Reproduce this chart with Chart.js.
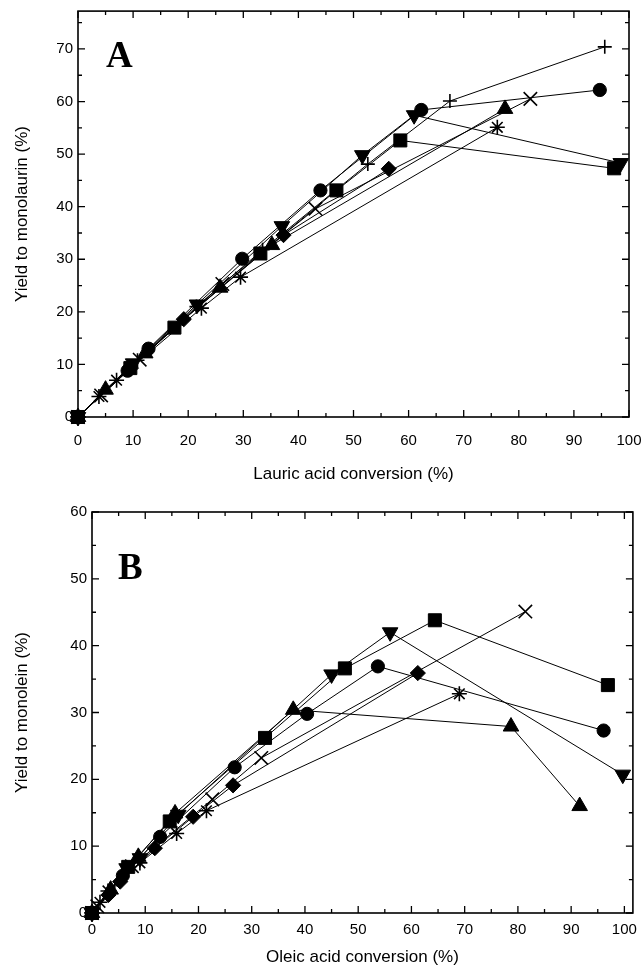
<!DOCTYPE html>
<html><head><meta charset="utf-8">
<script src="https://cdn.jsdelivr.net/npm/chart.js@4.4.1/dist/chart.umd.min.js"></script>
<style>
html,body{margin:0;padding:0;background:#fff;}
#wrapA{position:absolute;left:0;top:0;width:644px;height:490px;}
#wrapB{position:absolute;left:0;top:490px;width:644px;height:478px;}
</style></head><body>
<div id="wrapA"><canvas id="cA" width="644" height="490"></canvas></div>
<div id="wrapB"><canvas id="cB" width="644" height="478"></canvas></div>
<script>
// ---------- Panel A: lauric acid ----------
const lauricSquareX   = [0, 9.5, 17.5, 33.1, 46.9, 58.5, 97.3];
const lauricSquareY   = [0, 9.3, 17.0, 31.1, 43.1, 52.6, 47.3];
const lauricCircleX   = [0, 9.0, 12.8, 29.8, 44.0, 62.3, 94.7];
const lauricCircleY   = [0, 8.8, 13.0, 30.1, 43.1, 58.4, 62.2];
const lauricTriUpX    = [0, 5.0, 12.2, 25.8, 35.2, 77.5];
const lauricTriUpY    = [0, 5.2, 12.1, 24.6, 32.7, 58.6];
const lauricTriDownX  = [0, 10.0, 21.6, 37.0, 51.6, 61.0, 98.5];
const lauricTriDownY  = [0, 10.2, 21.4, 36.3, 49.8, 57.4, 48.3];
const lauricDiamondX  = [0, 9.6, 19.2, 37.3, 56.4];
const lauricDiamondY  = [0, 9.3, 18.6, 34.6, 47.2];
const lauricPlusX     = [0, 10.8, 21.5, 33.5, 52.6, 67.5, 95.6];
const lauricPlusY     = [0, 10.8, 21.0, 31.8, 48.1, 60.1, 70.4];
const lauricCrossX    = [0, 4.2, 11.2, 26.2, 43.1, 82.1];
const lauricCrossY    = [0, 4.1, 10.9, 25.3, 39.6, 60.5];
const lauricStarX     = [0, 3.8, 7.0, 22.4, 29.5, 76.1];
const lauricStarY     = [0, 3.9, 7.0, 20.7, 26.6, 55.1];

// ---------- Panel B: oleic acid ----------
const oleicSquareX    = [0, 6.8, 14.6, 32.5, 47.5, 64.4, 96.9];
const oleicSquareY    = [0, 6.9, 13.7, 26.2, 36.6, 43.8, 34.1];
const oleicCircleX    = [0, 5.8, 12.8, 26.8, 40.4, 53.7, 96.1];
const oleicCircleY    = [0, 5.6, 11.4, 21.8, 29.8, 36.9, 27.3];
const oleicTriUpX     = [0, 3.5, 8.7, 15.6, 37.8, 78.7, 91.6];
const oleicTriUpY     = [0, 3.5, 8.4, 14.9, 30.4, 27.9, 16.0];
const oleicTriDownX   = [0, 6.5, 9.0, 16.2, 45.0, 56.0, 99.7];
const oleicTriDownY   = [0, 6.7, 8.2, 14.7, 35.7, 42.0, 20.7];
const oleicDiamondX   = [0, 3.1, 5.3, 11.8, 19.0, 26.5, 61.2];
const oleicDiamondY   = [0, 2.7, 4.7, 9.7, 14.4, 19.1, 35.9];
const oleicCrossX     = [0, 1.0, 7.5, 22.6, 31.8, 81.4];
const oleicCrossY     = [0, 1.0, 7.0, 17.0, 23.2, 45.1];
const oleicStarX      = [0, 1.5, 3.0, 9.0, 15.9, 21.5, 69.0];
const oleicStarY      = [0, 1.6, 3.3, 7.5, 11.9, 15.3, 32.8];

// axis texts and ranges
const panelLetters = ['A', 'B'];
const xTitles = ['Lauric acid conversion (%)', 'Oleic acid conversion (%)'];
const yTitles = ['Yield to monolaurin (%)', 'Yield to monolein (%)'];
const xMax = [100, 101.6];
const yMax = [77.2, 60];

const MARKERS = {
  square:  {pointStyle:'rect', radius:9.2, rotation:0, filled:true},
  circle:  {pointStyle:'circle', radius:6.6, rotation:0, filled:true},
  triUp:   {pointStyle:'triangle', radius:9, rotation:0, filled:true},
  triDown: {pointStyle:'triangle', radius:9, rotation:180, filled:true},
  diamond: {pointStyle:'rectRot', radius:7.6, rotation:0, filled:true},
  plus:    {pointStyle:'cross', radius:7, rotation:0, filled:false},
  cross:   {pointStyle:'crossRot', radius:9.5, rotation:0, filled:false},
  star:    {pointStyle:'star', radius:7.5, rotation:0, filled:false}
};

function ds(xs, ys, kind){
  const m = MARKERS[kind];
  return {
    data: xs.map((x,i)=>({x:x, y:ys[i]})),
    showLine: true,
    borderColor: '#000',
    borderWidth: 1,
    backgroundColor: '#000',
    pointBackgroundColor: '#000',
    pointBorderColor: '#000',
    pointBorderWidth: m.filled ? 1 : 1.6,
    pointStyle: m.pointStyle,
    pointRadius: m.radius,
    pointRotation: m.rotation,
    clip: false
  };
}

const frameTicks = {
  id: 'frameTicks',
  beforeDatasetsDraw(chart){
    const {ctx, chartArea:a} = chart;
    const sx = chart.scales.x, sy = chart.scales.y;
    ctx.save();
    ctx.strokeStyle = '#000';
    ctx.lineWidth = 1.6;
    ctx.strokeRect(a.left, a.top, a.right - a.left, a.bottom - a.top);
    ctx.lineWidth = 1.3;
    ctx.beginPath();
    for (let v = 0; v <= sx.max + 0.01; v += 5) {
      const p = sx.getPixelForValue(v);
      const len = (v % 10 === 0) ? 7 : 4;
      ctx.moveTo(p, a.bottom); ctx.lineTo(p, a.bottom - len);
      ctx.moveTo(p, a.top); ctx.lineTo(p, a.top + len);
    }
    for (let v = 0; v <= sy.max + 0.01; v += 5) {
      const p = sy.getPixelForValue(v);
      const len = (v % 10 === 0) ? 7 : 4;
      ctx.moveTo(a.left, p); ctx.lineTo(a.left + len, p);
      ctx.moveTo(a.right, p); ctx.lineTo(a.right - len, p);
    }
    ctx.stroke();
    ctx.restore();
  },
  afterDraw(chart, args, opts){
    const ctx = chart.ctx;
    ctx.save();
    ctx.fillStyle = '#000';
    ctx.font = 'bold 37px "Liberation Serif", "Times New Roman", serif';
    ctx.textBaseline = 'alphabetic';
    ctx.fillText(opts.letter, opts.lx, opts.ly);
    ctx.restore();
  }
};

function makeChart(id, datasets, idx, layout){
  return new Chart(document.getElementById(id), {
    type: 'scatter',
    data: {datasets: datasets},
    options: {
      responsive: false,
      animation: false,
      events: [],
      layout: {padding: {left: 0, top: layout.top, right: layout.right, bottom: 0}},
      plugins: {
        legend: {display: false},
        tooltip: {enabled: false},
        frameTicks: {letter: panelLetters[idx], lx: layout.lx, ly: layout.ly}
      },
      scales: {
        x: {
          type: 'linear', min: 0, max: xMax[idx],
          grid: {display: false, drawTicks: false},
          border: {display: false},
          ticks: {stepSize: 10, includeBounds: false, color: '#000', padding: layout.xTickPad,
                  font: {family: '"Liberation Sans", Arial, sans-serif', size: 15},
                  callback: v => (v % 10 === 0 && v <= 100) ? String(v) : ''},
          title: {display: true, text: xTitles[idx], color: '#000',
                  font: {family: '"Liberation Sans", Arial, sans-serif', size: 17},
                  padding: {top: 0, bottom: layout.xTitlePad}},
          afterFit: s => { s.height = layout.xH; s.paddingLeft = 0; s.paddingRight = 0; }
        },
        y: {
          type: 'linear', min: 0, max: yMax[idx],
          grid: {display: false, drawTicks: false},
          border: {display: false},
          ticks: {stepSize: 10, includeBounds: false, color: '#000', padding: 5,
                  font: {family: '"Liberation Sans", Arial, sans-serif', size: 15},
                  callback: v => (v % 10 === 0) ? String(v) : ''},
          title: {display: true, text: yTitles[idx], color: '#000',
                  font: {family: '"Liberation Sans", Arial, sans-serif', size: 17},
                  padding: {top: layout.yTitlePad, bottom: 0}},
          afterFit: s => { s.width = layout.yW; s.paddingTop = 0; s.paddingBottom = 0; }
        }
      }
    },
    plugins: [frameTicks]
  });
}

makeChart('cA', [
  ds(lauricSquareX, lauricSquareY, 'square'),
  ds(lauricCircleX, lauricCircleY, 'circle'),
  ds(lauricTriUpX, lauricTriUpY, 'triUp'),
  ds(lauricTriDownX, lauricTriDownY, 'triDown'),
  ds(lauricDiamondX, lauricDiamondY, 'diamond'),
  ds(lauricPlusX, lauricPlusY, 'plus'),
  ds(lauricCrossX, lauricCrossY, 'cross'),
  ds(lauricStarX, lauricStarY, 'star')
], 0, {top: 10, right: 15, xH: 73, yW: 78, xTickPad: 15, xTitlePad: 5, yTitlePad: 12, lx: 106, ly: 67});

makeChart('cB', [
  ds(oleicSquareX, oleicSquareY, 'square'),
  ds(oleicCircleX, oleicCircleY, 'circle'),
  ds(oleicTriUpX, oleicTriUpY, 'triUp'),
  ds(oleicTriDownX, oleicTriDownY, 'triDown'),
  ds(oleicDiamondX, oleicDiamondY, 'diamond'),
  ds(oleicCrossX, oleicCrossY, 'cross'),
  ds(oleicStarX, oleicStarY, 'star')
], 1, {top: 22, right: 11, xH: 55, yW: 92, xTickPad: 8, xTitlePad: 0, yTitlePad: 12, lx: 118, ly: 89});
</script>
</body></html>
